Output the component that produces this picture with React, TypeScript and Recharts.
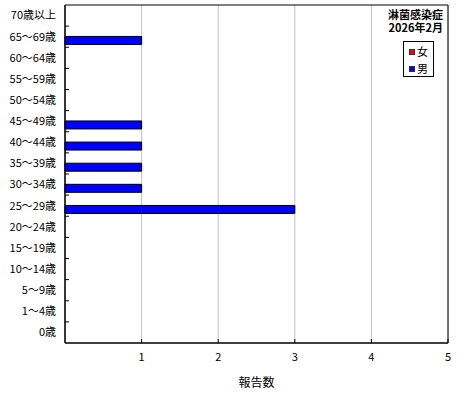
import React from 'react';
import { BarChart, Bar, XAxis, YAxis, CartesianGrid, ReferenceArea, Legend } from 'recharts';

// age groups, top to bottom as in the report
const ageGroups = [
  '70歳以上', '65～69歳', '60～64歳', '55～59歳', '50～54歳', '45～49歳', '40～44歳', '35～39歳',
  '30～34歳', '25～29歳', '20～24歳', '15～19歳', '10～14歳', '5～9歳', '1～4歳', '0歳',
];
const femaleCounts = [0, 0, 0, 0, 0, 0, 0, 0, 0, 0, 0, 0, 0, 0, 0, 0];
const maleCounts = [0, 1, 0, 0, 0, 1, 1, 1, 1, 3, 0, 0, 0, 0, 0, 0];
const countTicks = [1, 2, 3, 4, 5];

const chartData = ageGroups.map((age, i) => ({
  age,
  female: femaleCounts[i],
  male: maleCounts[i],
}));

const FONT = "'Noto Sans CJK JP', sans-serif";
const PLOT_HEIGHT = 338;
const BAND = PLOT_HEIGHT / ageGroups.length;

// label left of the axis, small tick on the band boundary (inside the plot)
const AgeTick = ({ x, y, payload, index }: any) => (
  <g>
    <text x={x - 9} y={y} dy="0.35em" textAnchor="end" fontSize={11} fill="#000" fontFamily={FONT}>
      {payload.value}
    </text>
    {index < ageGroups.length - 1 && (
      <line x1={x} x2={x + 4} y1={y + BAND / 2} y2={y + BAND / 2} stroke="#000" />
    )}
  </g>
);

const CountTick = ({ x, y, payload }: any) => (
  <g>
    <line x1={x} x2={x} y1={y - 4} y2={y} stroke="#000" />
    <text x={x} y={y + 18} textAnchor="middle" fontSize={11} fill="#000" fontFamily={FONT}>
      {payload.value}
    </text>
  </g>
);

const renderLegend = ({ payload }: any) => (
  <div
    style={{
      border: '1px solid #000',
      background: '#fff',
      width: 31,
      height: 36,
      boxSizing: 'border-box',
      paddingTop: 1,
      fontFamily: FONT,
      fontSize: 11,
    }}
  >
    {payload.map((entry: any) => (
      <div key={entry.value} style={{ display: 'flex', alignItems: 'center', height: 17, paddingLeft: 5 }}>
        <span
          style={{
            display: 'inline-block',
            width: 4,
            height: 4,
            background: entry.color,
            border: '1px solid #333',
            marginRight: 2,
          }}
        />
        <span style={{ lineHeight: '11px' }}>{entry.value}</span>
      </div>
    ))}
  </div>
);

export default function App() {
  return (
    <div style={{ position: 'absolute', left: 0, top: 0, width: 460, height: 400, background: '#fff' }}>
      <BarChart
        width={460}
        height={400}
        data={chartData}
        layout="vertical"
        margin={{ top: 5, right: 12, bottom: 0, left: 0 }}
        barCategoryGap="11%"
        barGap={0}
      >
        <CartesianGrid horizontal={false} stroke="#c0c0c0" />
        <XAxis
          type="number"
          domain={[0, 5]}
          ticks={countTicks}
          height={57}
          axisLine={{ stroke: '#000' }}
          tickLine={false}
          tickSize={0}
          tickMargin={0}
          tick={<CountTick />}
          label={{ value: '報告数', position: 'insideBottom', offset: 13, fontSize: 12, fill: '#000', fontFamily: FONT }}
        />
        <YAxis
          type="category"
          dataKey="age"
          width={65}
          interval={0}
          axisLine={{ stroke: '#000' }}
          tickLine={false}
          tickSize={0}
          tickMargin={0}
          tick={<AgeTick />}
        />
        <ReferenceArea x1={0} x2={5} fill="none" fillOpacity={0} stroke="#000" strokeWidth={1} />
        <Bar dataKey="female" name="女" fill="#ff0000" stroke="#000" strokeWidth={1} isAnimationActive={false} />
        <Bar dataKey="male" name="男" fill="#0000ff" stroke="#000" strokeWidth={1} isAnimationActive={false} />
        <Legend
          layout="vertical"
          align="center"
          verticalAlign="middle"
          content={renderLegend}
          wrapperStyle={{ top: 41, left: 403, width: 31 }}
        />
      </BarChart>
      <div
        style={{
          position: 'absolute',
          right: 17,
          top: 8,
          textAlign: 'right',
          fontFamily: FONT,
          fontSize: 11,
          fontWeight: 'bold',
          lineHeight: '13px',
        }}
      >
        <div>淋菌感染症</div>
        <div>2026年2月</div>
      </div>
    </div>
  );
}
